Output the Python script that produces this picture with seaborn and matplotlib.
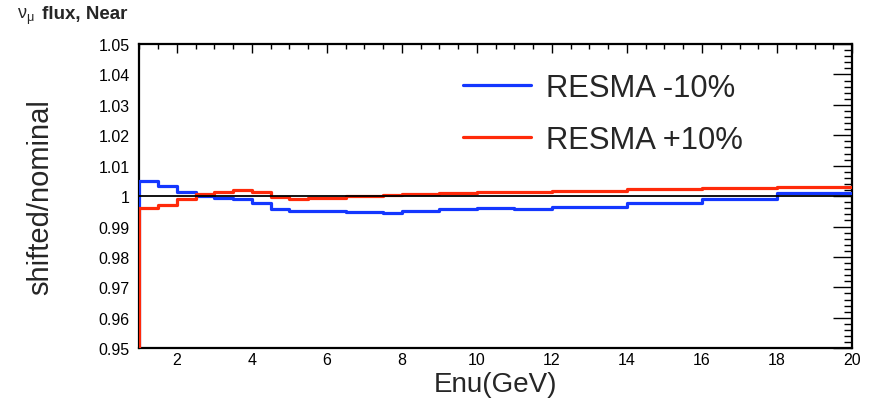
import pandas as pd
import matplotlib
matplotlib.use("Agg")
import matplotlib.pyplot as plt
from matplotlib.ticker import MultipleLocator
import seaborn as sns

# bin edges (GeV); first bin is the underflow below the visible range
edges = [0.0, 1.0, 1.5, 2.0, 2.5, 3.0, 3.5, 4.0, 4.5, 5.0, 5.5, 6.0, 6.5,
         7.0, 7.5, 8.0, 9.0, 10.0, 11.0, 12.0, 14.0, 16.0, 18.0, 20.0]

resma_minus = [0.90, 1.0050, 1.0034, 1.0012, 1.0002, 0.9994, 0.9990, 0.9978,
               0.9957, 0.9951, 0.9951, 0.9951, 0.9949, 0.9949, 0.9946, 0.9950,
               0.9958, 0.9961, 0.9959, 0.9964, 0.9977, 0.9990, 1.0010]
resma_plus = [0.90, 0.9962, 0.9970, 0.9990, 1.0006, 1.0012, 1.0020, 1.0012,
              0.9998, 0.9990, 0.9993, 0.9994, 0.9999, 1.0002, 1.0004, 1.0007,
              1.0010, 1.0013, 1.0015, 1.0018, 1.0024, 1.0027, 1.0031]
# nominal over the visible bins only
nominal = [1.0] * (len(edges) - 2)

labels = ["RESMA -10%", "RESMA +10%"]
colors = ["#1437ff", "#ff2a0a"]

# steps-post needs the last value repeated at the upper edge
rows = []
for lab, vals in zip(labels, [resma_minus, resma_plus]):
    for x, v in zip(edges, vals + [vals[-1]]):
        rows.append({"Enu": x, "ratio": v, "sample": lab})
df = pd.DataFrame(rows)
df_nom = pd.DataFrame({"Enu": edges[1:], "ratio": nominal + [nominal[-1]]})

sns.set_style("white")
plt.rcParams["font.family"] = ["Liberation Sans", "DejaVu Sans"]
plt.rcParams["mathtext.fontset"] = "custom"
plt.rcParams["mathtext.rm"] = "Liberation Sans"
plt.rcParams["mathtext.it"] = "Liberation Sans:italic"

fig = plt.figure(figsize=(8.73, 4.06), dpi=100)
ax = fig.add_axes([0.1596, 0.140, 0.8164, 0.749])

sns.lineplot(data=df, x="Enu", y="ratio", hue="sample", palette=colors,
             drawstyle="steps-post", estimator=None, sort=False, lw=2.3,
             ax=ax, zorder=3)
sns.lineplot(data=df_nom, x="Enu", y="ratio", color="black", lw=1.3,
             drawstyle="steps-post", estimator=None, legend=False, ax=ax, zorder=4)

ax.set_xlim(1, 20)
ax.set_ylim(0.95, 1.05)
ax.xaxis.set_major_locator(MultipleLocator(2))
ax.xaxis.set_minor_locator(MultipleLocator(0.5))
ax.yaxis.set_major_locator(MultipleLocator(0.01))
ax.yaxis.set_minor_locator(MultipleLocator(0.002))
ax.set_yticks([0.95, 0.96, 0.97, 0.98, 0.99, 1.0, 1.01, 1.02, 1.03, 1.04, 1.05],
              ["0.95", "0.96", "0.97", "0.98", "0.99", "1", "1.01", "1.02", "1.03", "1.04", "1.05"])

ax.tick_params(which="both", direction="in", top=True, right=True, width=1, colors="black")
ax.tick_params(axis="x", which="major", length=6.5, labelsize=11.5, pad=3)
ax.tick_params(axis="x", which="minor", length=3.6)
ax.tick_params(axis="y", which="major", length=13.5, labelsize=11.5, pad=7)
ax.tick_params(axis="y", which="minor", length=6)
for sp in ax.spines.values():
    sp.set_linewidth(1.6)
    sp.set_color("black")

ax.set_xlabel("Enu(GeV)", fontsize=20)
ax.xaxis.set_label_coords(0.5, -0.075)
ax.set_ylabel("shifted/nominal", fontsize=21)
ax.yaxis.set_label_coords(-0.119, 0.5)

ax.legend(loc="upper left", bbox_to_anchor=(0.454, 0.905), frameon=False,
          fontsize=22.3, handlelength=2.2, handletextpad=0.48, labelspacing=0.72,
          borderpad=0, borderaxespad=0, title=None)

# upright nu with mu subscript, then bold text
fig.text(0.019, 1 - 19 / 406, r"$\mathrm{\nu}_{\mathrm{\mu}}$", fontsize=13,
         va="baseline", ha="left")
fig.text(0.048, 1 - 19 / 406, "flux, Near", fontsize=13.5,
         fontweight="bold", va="baseline", ha="left")

fig.savefig("out.png", dpi=100)
